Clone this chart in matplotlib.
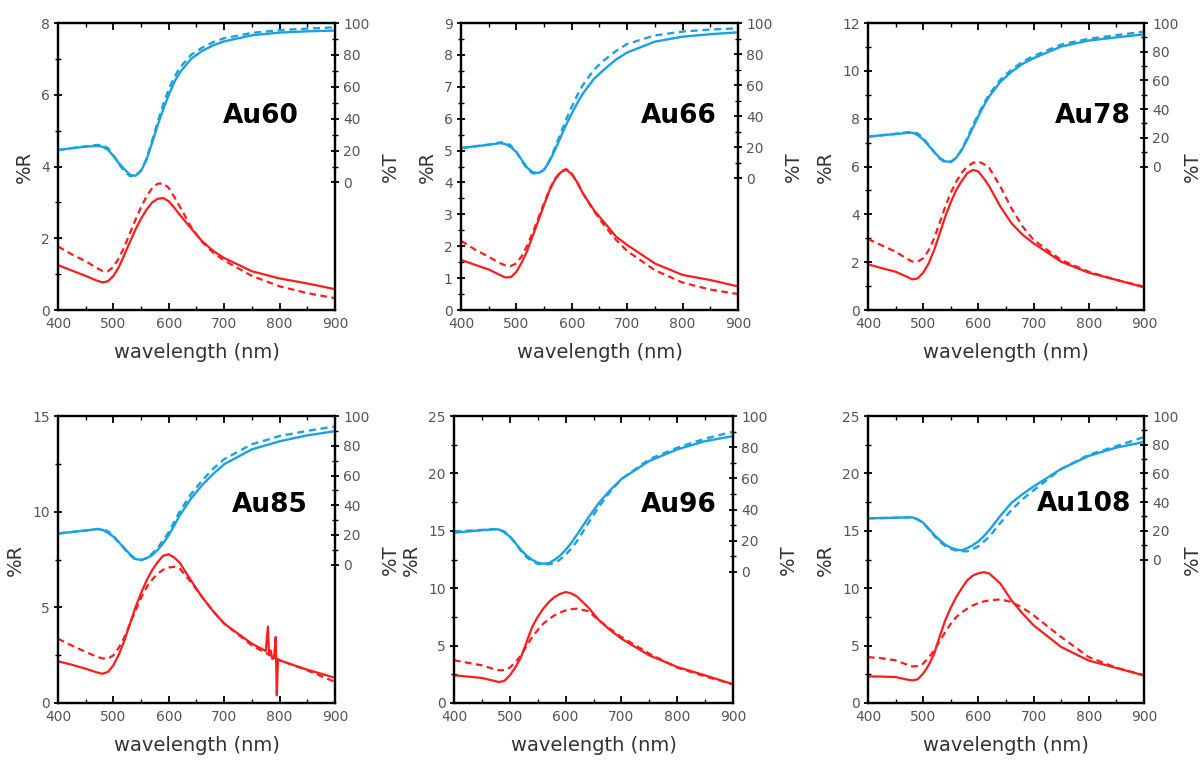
import matplotlib.pyplot as plt
from matplotlib.ticker import MultipleLocator, FixedLocator

# wavelength grid (nm) used for all read-off curves
wl = [400, 425, 450, 470, 480, 490, 500, 510, 520, 530, 540, 550, 560, 570,
      580, 590, 600, 610, 620, 640, 660, 680, 700, 750, 800, 850, 900]

samples = ["Au60", "Au66", "Au78", "Au85", "Au96", "Au108"]

# %T, measured (solid) and simulated (dashed)
t_meas = {
    "Au60": [20.4, 21.5, 22.5, 22.9, 22.5, 20.5, 16.6, 12, 8.3, 4.8, 4.2, 7.3, 14.5, 25,
             36, 46, 55, 63, 69, 77.5, 82.5, 86, 88.5, 92.3, 94, 94.8, 95.3],
    "Au66": [19.4, 20.5, 21.5, 22.6, 22, 20, 16.8, 11.5, 6.5, 3.8, 3.3, 5.4, 11, 18.5,
             26.5, 34.5, 41.6, 48.5, 54.5, 64, 70.5, 76.5, 81, 88, 91.2, 92.8, 94],
    "Au78": [20.8, 21.8, 22.6, 23.4, 23.6, 22, 18.9, 14.5, 10.2, 6, 3.5, 3.4, 6.2, 11.5,
             18.9, 27, 35, 42.5, 49, 59, 66, 71.5, 75.5, 83.6, 87.8, 90, 92.1],
    "Au85": [21, 22, 23, 24, 23.5, 21.5, 18.8, 15, 11, 7, 3.8, 3.3, 4.4, 6.5,
             10, 14.5, 20, 26.5, 33.3, 44.5, 53.5, 61, 67.6, 77.6, 83, 87, 89.8],
    "Au96": [25.2, 26, 26.8, 27.3, 27.3, 25.5, 22.6, 18.5, 14.2, 10.5, 7.8, 6, 5.3, 5.7,
             7.8, 10.5, 14.2, 18.5, 23.7, 34.5, 44.5, 52.5, 59.6, 71.2, 78.6, 83.9, 87.1],
    "Au108": [28.7, 28.9, 29.1, 29.3, 29.4, 28, 25.7, 21.5, 17.2, 13.5, 10.3, 8.3, 6.9, 6.4,
              8, 10, 12.6, 16.3, 20.6, 30.5, 39.5, 45.5, 50.9, 63.1, 72.2, 78, 81.9],
}
t_sim = {
    "Au60": [20.4, 21.5, 22.6, 23.5, 23.5, 21.5, 17, 11.5, 7, 4, 4, 7.5, 15, 26.5,
             38, 49, 58.5, 66, 72, 80, 84.5, 88, 90.5, 93.8, 95.5, 96.5, 97.3],
    "Au66": [19.4, 20.5, 21.6, 23, 23, 21, 17, 11, 5.5, 3, 3, 5.5, 11.5, 20,
             29, 38, 46, 53.5, 60, 70, 76.5, 82, 86.5, 92, 94.5, 95.8, 96.6],
    "Au78": [20.8, 21.8, 22.8, 23.8, 24, 23, 20, 15, 10, 5.5, 3, 3, 6, 12,
             20, 28.5, 36.5, 44, 50.5, 60.5, 67.5, 73, 77, 85, 89, 91.5, 94],
    "Au85": [21, 22, 23, 24, 24, 22.5, 19.5, 15, 10.5, 6.5, 3.3, 3, 4.5, 7.5,
             11.5, 16.5, 22, 29, 36, 47.5, 56.5, 64.5, 71, 81, 86.5, 90, 93],
    "Au96": [26, 26.5, 27, 27.5, 27.5, 26, 23, 18.5, 13.5, 9.5, 6.8, 5.3, 4.8, 5,
             5.7, 8, 11, 15, 19.5, 31, 42, 51.5, 59.6, 72.3, 79.7, 85.5, 89.9],
    "Au108": [28.7, 28.9, 29.1, 29.3, 29.3, 28, 25.5, 21, 16.5, 12.5, 9.5, 7.5, 6.3, 5.8,
              5.7, 7.2, 9.2, 12.5, 16, 25.5, 34.5, 42, 48.2, 63.1, 73, 79, 85.3],
}

# %R, measured (solid) and simulated (dashed)
r_meas = {
    "Au60": [1.25, 1.1, 0.95, 0.82, 0.77, 0.8, 0.95, 1.2, 1.55, 1.9, 2.25, 2.55, 2.8, 3.0,
             3.1, 3.12, 3.03, 2.85, 2.65, 2.28, 1.92, 1.65, 1.45, 1.08, 0.88, 0.74, 0.58],
    "Au66": [1.57, 1.42, 1.27, 1.1, 1.02, 1.03, 1.2, 1.5, 1.88, 2.35, 2.82, 3.3, 3.76, 4.1,
             4.32, 4.4, 4.26, 4.0, 3.66, 3.13, 2.72, 2.3, 2.04, 1.46, 1.1, 0.94, 0.74],
    "Au78": [1.91, 1.75, 1.6, 1.4, 1.28, 1.32, 1.56, 1.95, 2.51, 3.2, 3.9, 4.5, 5.02, 5.4,
             5.72, 5.86, 5.79, 5.5, 5.16, 4.32, 3.63, 3.15, 2.79, 2.02, 1.56, 1.26, 0.95],
    "Au96": [2.41, 2.3, 2.18, 1.95, 1.83, 1.92, 2.41, 3.1, 4.0, 5.3, 6.62, 7.5, 8.22, 8.8,
             9.23, 9.5, 9.67, 9.55, 9.29, 8.36, 7.2, 6.35, 5.6, 4.15, 3.14, 2.41, 1.63],
    "Au108": [2.32, 2.3, 2.26, 2.05, 1.97, 2.06, 2.56, 3.3, 4.3, 5.8, 7.2, 8.3, 9.23, 10.0,
              10.7, 11.1, 11.3, 11.4, 11.27, 10.4, 8.94, 7.8, 6.77, 4.88, 3.7, 3.05, 2.41],
}
# Au85 measured reflectance has detector glitches near 780-795 nm
wl_85 = [400, 425, 450, 470, 480, 490, 500, 510, 520, 530, 540, 550, 560, 570,
         580, 590, 600, 610, 620, 640, 660, 680, 700, 750, 775, 779, 781, 784,
         787, 790, 793, 795, 797, 800, 850, 900]
r_meas_85 = [2.18, 2.0, 1.79, 1.6, 1.53, 1.62, 1.97, 2.55, 3.28, 4.15, 5.02, 5.75, 6.41, 6.95,
             7.37, 7.7, 7.77, 7.6, 7.32, 6.41, 5.54, 4.8, 4.15, 3.1, 2.72, 4.0, 2.5, 2.75,
             2.3, 2.35, 3.45, 0.4, 2.3, 2.23, 1.74, 1.32]

r_sim = {
    "Au60": [1.77, 1.55, 1.36, 1.17, 1.09, 1.08, 1.2, 1.45, 1.77, 2.15, 2.52, 2.87, 3.17, 3.4,
             3.52, 3.53, 3.4, 3.15, 2.88, 2.32, 1.9, 1.6, 1.38, 0.95, 0.66, 0.47, 0.33],
    "Au66": [2.17, 1.9, 1.67, 1.47, 1.4, 1.38, 1.46, 1.7, 2.04, 2.45, 2.9, 3.35, 3.8, 4.12,
             4.35, 4.42, 4.28, 4.0, 3.66, 3.1, 2.62, 2.2, 1.85, 1.25, 0.86, 0.64, 0.5],
    "Au78": [2.97, 2.7, 2.44, 2.15, 2.03, 2.02, 2.16, 2.5, 3.0, 3.65, 4.32, 4.9, 5.37, 5.75,
             6.0, 6.15, 6.21, 6.1, 5.93, 5.16, 4.25, 3.5, 2.93, 2.09, 1.6, 1.26, 0.98],
    "Au85": [3.36, 3.0, 2.67, 2.42, 2.33, 2.32, 2.49, 2.9, 3.45, 4.15, 4.84, 5.5, 6.06, 6.45,
             6.76, 6.97, 7.08, 7.12, 7.02, 6.32, 5.54, 4.8, 4.15, 3.01, 2.23, 1.71, 1.1],
    "Au96": [3.72, 3.5, 3.28, 2.98, 2.85, 2.86, 3.08, 3.55, 4.15, 4.95, 5.75, 6.35, 6.91, 7.3,
             7.64, 7.88, 8.07, 8.17, 8.22, 8.01, 7.2, 6.45, 5.75, 4.3, 3.08, 2.32, 1.63],
    "Au108": [4.0, 3.9, 3.72, 3.35, 3.19, 3.22, 3.43, 3.95, 4.59, 5.4, 6.18, 6.9, 7.49, 7.9,
              8.22, 8.5, 8.71, 8.85, 8.94, 9.03, 8.8, 8.3, 7.64, 5.75, 4.0, 3.08, 2.41],
}

# axis ranges per panel: %R max, %R tick step, lower limit of %T axis
r_max = [8, 9, 12, 15, 25, 25]
r_step = [2, 1, 2, 5, 5, 5]
t_low = [-80, -85, -100, -93, -84, -100]

BLUE = "#1ba1e2"
RED = "#ff1c1c"
GRAY = "#555555"

# panel rectangles in figure fraction, and label spot in axes fraction
rects = [
    [0.0482, 0.5921, 0.2300, 0.3776],
    [0.3829, 0.5921, 0.2300, 0.3776],
    [0.7209, 0.5921, 0.2292, 0.3776],
    [0.0482, 0.0750, 0.2300, 0.3776],
    [0.3771, 0.0750, 0.2317, 0.3776],
    [0.7209, 0.0750, 0.2292, 0.3776],
]
label_xy = [(0.596, 0.652), (0.65, 0.652), (0.678, 0.652),
            (0.628, 0.666), (0.67, 0.666), (0.612, 0.669)]

fig = plt.figure(figsize=(12.04, 7.6), dpi=100)

for i, name in enumerate(samples):
    ax = fig.add_axes(rects[i])
    axt = ax.twinx()

    axt.plot(wl, t_meas[name], color=BLUE, lw=1.7)
    axt.plot(wl, t_sim[name], color=BLUE, lw=1.7, ls=(0, (3, 2)))

    if name == "Au85":
        ax.plot(wl_85, r_meas_85, color=RED, lw=1.6)
    else:
        ax.plot(wl, r_meas[name], color=RED, lw=1.6)
    ax.plot(wl, r_sim[name], color=RED, lw=1.6, ls=(0, (3, 2)))

    ax.set_xlim(400, 900)
    ax.set_ylim(0, r_max[i])
    axt.set_ylim(t_low[i], 100)

    ax.xaxis.set_major_locator(MultipleLocator(100))
    ax.xaxis.set_minor_locator(MultipleLocator(50))
    ax.yaxis.set_major_locator(MultipleLocator(r_step[i]))
    ax.yaxis.set_minor_locator(MultipleLocator(r_step[i] / 2))
    axt.yaxis.set_major_locator(FixedLocator([0, 20, 40, 60, 80, 100]))
    axt.yaxis.set_minor_locator(FixedLocator([10, 30, 50, 70, 90]))

    ax.tick_params(axis="x", which="both", direction="in", top=True,
                   labelsize=10, labelcolor=GRAY, pad=5)
    ax.tick_params(axis="x", which="major", length=5, width=1.3)
    ax.tick_params(axis="x", which="minor", length=3, width=1)
    ax.tick_params(axis="y", which="both", direction="inout",
                   labelsize=10, labelcolor=GRAY, pad=3)
    ax.tick_params(axis="y", which="major", length=6, width=1.3)
    ax.tick_params(axis="y", which="minor", length=4, width=1)
    axt.tick_params(axis="y", which="both", direction="inout",
                    labelsize=10, labelcolor=GRAY, pad=3)
    axt.tick_params(axis="y", which="major", length=6, width=1.3)
    axt.tick_params(axis="y", which="minor", length=4, width=1)

    for a in (ax, axt):
        for s in a.spines.values():
            s.set_linewidth(1.6)

    ax.set_xlabel("wavelength (nm)", fontsize=14, color="#333333", labelpad=9)
    ax.set_ylabel("%R", fontsize=14, color="#333333", labelpad=5)
    tpad = 3 if i % 3 == 2 else 8
    axt.set_ylabel("%T", fontsize=14, color="#333333", labelpad=tpad)

    axt.text(label_xy[i][0], label_xy[i][1], name, transform=ax.transAxes,
             fontsize=19, fontweight="bold", ha="left", va="baseline")

fig.savefig("out.png", dpi=100)
